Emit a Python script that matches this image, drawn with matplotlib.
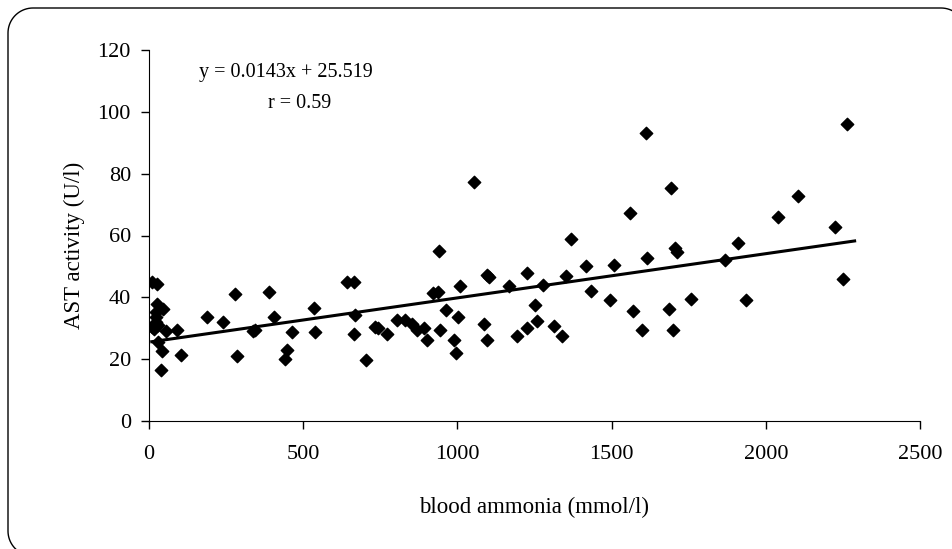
import numpy as np
import matplotlib
matplotlib.use("Agg")
import matplotlib.pyplot as plt
from matplotlib.lines import Line2D

# blood ammonia (mmol/l) vs AST activity (U/l)
ammonia = [9, 27, 27, 22, 46, 22, 16, 28, 56, 90, 30, 43, 38, 103, 10, 24,
           187, 239, 278, 286, 337, 345, 389, 404, 442, 448, 464, 535, 539,
           641, 665, 667, 665, 704, 734, 744, 771, 803, 831, 854, 868, 892,
           902, 921, 937, 941, 945, 963, 989, 996, 1002, 1008, 1054, 1087,
           1095, 1095, 1103, 1166, 1194, 1225, 1225, 1253, 1257, 1278, 1312,
           1340, 1351, 1367, 1417, 1434, 1494, 1509, 1561, 1568, 1600, 1612,
           1614, 1685, 1693, 1699, 1705, 1711, 1758, 1868, 1910, 1936, 2038,
           2105, 2224, 2249, 2263]
ast = [44.9, 44.2, 37.9, 35.2, 36.3, 31.9, 29.8, 31.0, 29.0, 29.4, 25.4,
       22.7, 16.5, 21.3, 30.5, 33.5,
       33.8, 32.0, 41.0, 20.9, 29.0, 29.5, 41.7, 33.8, 20.0, 22.9, 28.8,
       36.7, 28.8, 44.8, 44.8, 34.2, 28.1, 19.6, 30.3, 30.0, 28.1, 32.7,
       32.7, 31.5, 29.5, 30.0, 26.3, 41.3, 41.7, 55.1, 29.5, 36.0, 26.3,
       22.1, 33.8, 43.6, 77.4, 31.3, 26.3, 47.2, 46.5, 43.6, 27.4, 47.9,
       30.0, 37.4, 32.2, 44.0, 30.6, 27.6, 47.0, 59.0, 50.2, 42.2, 39.1,
       50.4, 67.4, 35.6, 29.3, 93.3, 52.7, 36.3, 75.3, 29.3, 56.1, 54.7,
       39.4, 52.2, 57.6, 39.1, 66.1, 72.9, 62.6, 45.9, 96.2]

slope = 0.0143
intercept = 25.519
r_value = 0.59

plt.rcParams["font.family"] = ["Liberation Serif", "DejaVu Serif"]

W, H = 953, 549
fig = plt.figure(figsize=(W / 100, H / 100), dpi=100)


def rounded_frame(x0, y0, x1, y1, r):
    # outline of a rounded rectangle, in figure fractions (y measured from top in px)
    t = np.linspace(0, np.pi / 2, 20)
    xs, ys = [], []
    for cx, cy, a0 in [(x1 - r, y0 + r, 0), (x0 + r, y0 + r, np.pi / 2),
                       (x0 + r, y1 - r, np.pi), (x1 - r, y1 - r, 1.5 * np.pi)]:
        xs += list(cx + r * np.cos(a0 + t))
        ys += list(cy - r * np.sin(a0 + t))
    xs.append(xs[0])
    ys.append(ys[0])
    return np.array(xs) / W, 1 - np.array(ys) / H


fx, fy = rounded_frame(8, 8, 966, 556, 25)
fig.add_artist(Line2D(fx, fy, transform=fig.transFigure, color="black", linewidth=1.0))

ax = fig.add_axes([149 / W, 1 - 421 / H, (920 - 149) / W, (421 - 50) / H])

ax.scatter(ammonia, ast, marker="D", s=40, color="black", zorder=3)

xfit = np.array([min(ammonia), max(ammonia) + 25])
ax.plot(xfit, slope * xfit + intercept, color="black", linewidth=2.2, zorder=2)

ax.set_xlim(0, 2500)
ax.set_ylim(0, 120)
ax.set_xticks(range(0, 2501, 500))
ax.set_yticks(range(0, 121, 20))
ax.spines["top"].set_visible(False)
ax.spines["right"].set_visible(False)
ax.tick_params(direction="out", length=6, width=1, labelsize=16)
ax.tick_params(axis="x", pad=11)
ax.tick_params(axis="y", pad=7)
ax.set_xlabel("blood ammonia (mmol/l)", fontsize=16.5)
ax.set_ylabel("AST activity (U/l)", fontsize=16.5)
ax.xaxis.set_label_coords(0.5, -0.205)
ax.yaxis.set_label_coords(-0.083, 0.474)

ax.text((286 - 149) / 771, (421 - 73) / 371, f"y = {slope}x + {intercept}",
        transform=ax.transAxes, ha="center", va="center", fontsize=14.5)
ax.text((300 - 149) / 771, (421 - 103) / 371, f"r = {r_value}",
        transform=ax.transAxes, ha="center", va="center", fontsize=14.5)

fig.savefig("out.png", dpi=100, facecolor="white")
